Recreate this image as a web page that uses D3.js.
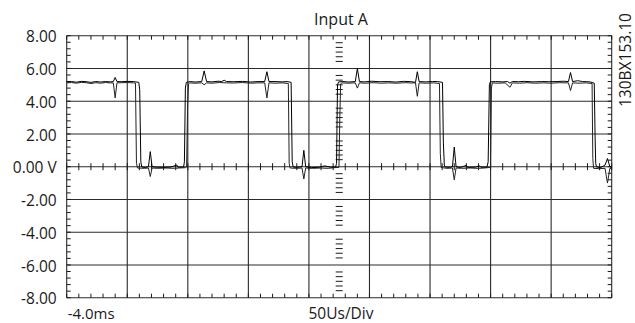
<!DOCTYPE html>
<html>
<head>
<meta charset="utf-8">
<script src="https://cdn.jsdelivr.net/npm/d3@7"></script>
<style>
    html, body { margin: 0; padding: 0; background: #fff; }
    svg { display: block; }
    text { font-family: "Open Sans", "DejaVu Sans", sans-serif; fill: #1a1a1a; }
</style>
</head>
<body>
<svg id="scope"></svg>
<script>
// Scope capture data (time in microseconds, 50 us per division)
const timeDivisions = [0, 50, 100, 150, 200, 250, 300, 350, 400, 450];
const voltTicks = [8, 6, 4, 2, 0, -2, -4, -6, -8];
const voltTickLabels = ['8.00', '6.00', '4.00', '2.00', '0.00 V', '-2.00', '-4.00', '-6.00', '-8.00'];
const chartTitle = 'Input A';
const timeStartLabel = '-4.0ms';
const timebaseLabel = '50Us/Div';
const figureCode = '130BX153.10';

// upper envelope of the trace [time, volts]
const traceUpper = [
    [0, 5.18], [4, 5.2], [8, 5.16], [12, 5.21], [16, 5.19], [20, 5.15], [24, 5.2], [28, 5.17],
    [32, 5.2], [36, 5.18], [38.5, 5.2], [40, 5.45], [41.5, 5.2], [45, 5.19], [50, 5.21], [55, 5.2],
    [59.5, 5.15], [60.3, 4.7], [61.2, 0.3], [62, -0.02],
    [65, -0.05], [67.5, 0.0], [69, 0.92], [70.5, 0.0], [74, -0.03], [80, -0.04], [86, -0.02],
    [91, 0.1], [92, -0.03], [96.5, -0.02], [97.2, 0.3], [98, 4.8], [98.8, 5.15],
    [102, 5.2], [106, 5.17], [111.5, 5.2], [113.5, 5.85], [115.5, 5.2], [120, 5.18], [125, 5.22],
    [128, 5.2], [130, 5.28], [132, 5.2], [138, 5.19], [145, 5.21], [152, 5.17], [158, 5.2],
    [163.5, 5.2], [165.3, 5.8], [167, 5.2], [172, 5.2], [178, 5.18], [182, 5.2], [185.3, 5.15],
    [186.2, 0.3], [187, -0.02],
    [190, -0.04], [194.3, 0], [195.8, 1.0], [197.3, 0.0], [202, -0.05], [208, -0.04], [213, 0.05],
    [218, -0.03], [222, -0.02], [222.8, 0.2], [223.6, 5.0], [224.5, 5.18],
    [228, 5.2], [233, 5.17], [238.3, 5.2], [240, 6.0], [241.7, 5.2], [246, 5.18], [252, 5.22],
    [258, 5.19], [265, 5.2], [272, 5.17], [278, 5.21], [284, 5.2], [288, 5.15], [289.5, 5.8],
    [291, 5.2], [296, 5.18], [302, 5.2], [306, 5.2], [310.3, 5.15], [311, 1.5], [311.8, 0.1], [312.5, -0.02],
    [316, -0.04], [318.5, 0], [320, 1.2], [321.5, 0], [325, -0.05], [330, 0.08], [331, -0.04],
    [337, -0.03], [341, 0.05], [342, -0.03], [347, -0.03], [348, 0.3], [349, 5.0], [349.8, 5.18],
    [354, 5.2], [360, 5.18], [364, 5.2], [366, 5.1], [368, 5.2], [373, 5.19], [378, 5.21], [385, 5.18],
    [392, 5.2], [398, 5.19], [405, 5.2], [410, 5.22], [414.3, 5.2], [416, 5.75], [417.7, 5.2],
    [422, 5.25], [426, 5.2], [432, 5.18], [435.6, 5.1], [436.3, 1.8], [436.8, 0.2], [437.5, -0.02],
    [441, -0.05], [444.5, 0.1], [446.5, 0.5], [448.5, 0.0], [450, -0.05]
];

// lower envelope of the trace [time, volts]
const traceLower = [
    [0, 5.12], [4, 5.14], [8, 5.1], [12, 5.15], [16, 5.13], [20, 5.08], [24, 5.13], [28, 5.1],
    [32, 5.14], [36, 5.12], [38.5, 5.12], [40, 4.2], [41.5, 5.12], [45, 5.13], [50, 5.14], [55, 5.12],
    [56.8, 5.1], [57.6, 0.2], [58.5, -0.08],
    [64, -0.1], [67.5, -0.08], [69, -0.6], [70.5, -0.08], [75, -0.1], [82, -0.08], [88, -0.1],
    [93, -0.08], [98, -0.06], [99, -0.02], [99.8, 3.6], [100.6, 5.05], [101.5, 5.12],
    [106, 5.1], [111.5, 5.12], [113.5, 5.0], [115.5, 5.12], [120, 5.1], [126, 5.14], [132, 5.12],
    [138, 5.11], [145, 5.14], [152, 5.1], [158, 5.12], [163.5, 5.12], [165.3, 4.2], [167, 5.12],
    [172, 5.1], [178, 5.12], [183, 5.08], [183.7, 0.2], [184.5, -0.08],
    [190, -0.1], [194.3, -0.08], [195.8, -0.75], [197.3, -0.08], [203, -0.1], [210, -0.08],
    [216, -0.1], [221, -0.06], [224.8, -0.04], [225.5, 3.0], [226.2, 5.05], [227, 5.12],
    [232, 5.1], [238.3, 5.12], [240, 4.8], [241.7, 5.12], [247, 5.1], [253, 5.13], [260, 5.1],
    [266, 5.12], [272, 5.1], [280, 5.13], [285, 5.11], [288, 5.12], [289.5, 4.3], [291, 5.12],
    [297, 5.1], [303, 5.12], [307.8, 5.08], [308.5, 0.8], [309.2, -0.05],
    [314, -0.1], [318.5, -0.08], [320, -0.8], [321.5, -0.08], [326, -0.1], [333, -0.08],
    [339, -0.1], [345, -0.08], [350, -0.04], [350.7, 4.8], [351.4, 5.12],
    [356, 5.1], [362, 5.12], [366, 4.85], [368, 5.12], [374, 5.1], [380, 5.13], [387, 5.1],
    [394, 5.12], [400, 5.1], [407, 5.13], [414.3, 5.12], [416, 4.65], [417.7, 5.12], [423, 5.1],
    [429, 5.12], [433.8, 5.08], [434.4, 0.5], [435, -0.1],
    [440, -0.12], [444.5, -0.1], [446.5, -1.0], [448.5, -0.1], [450, -0.12]
];

class ScopeChart {
    constructor() {
        this.setupDimensions();
        this.setupScales();
        this.createChart();
        this.drawGrid();
        this.drawTicks();
        this.drawTraces();
        this.drawLabels();
    }

    setupDimensions() {
        this.width = 635;
        this.height = 323;
        this.plot = { left: 66.7, right: 611.7, top: 35.7, bottom: 297.7 };
    }

    setupScales() {
        this.x = d3.scaleLinear()
            .domain([timeDivisions[0], timeDivisions[timeDivisions.length - 1]])
            .range([this.plot.left, this.plot.right]);

        this.y = d3.scaleLinear()
            .domain([-8, 8])
            .range([this.plot.bottom, this.plot.top]);
    }

    createChart() {
        this.svg = d3.select('#scope')
            .attr('width', this.width)
            .attr('height', this.height);
    }

    drawGrid() {
        const g = this.svg.append('g').attr('class', 'grid');

        // vertical division lines (no line at screen centre)
        g.selectAll('.vline')
            .data(timeDivisions)
            .enter()
            .append('line')
            .attr('x1', d => this.x(d))
            .attr('x2', d => this.x(d))
            .attr('y1', this.plot.top)
            .attr('y2', this.plot.bottom)
            .attr('stroke', '#2a2a2a')
            .attr('stroke-width', 1.1);

        g.selectAll('.hline')
            .data(voltTicks)
            .enter()
            .append('line')
            .attr('x1', this.plot.left)
            .attr('x2', this.plot.right)
            .attr('y1', d => this.y(d))
            .attr('y2', d => this.y(d))
            .attr('stroke', '#2a2a2a')
            .attr('stroke-width', 1.1);
    }

    drawTicks() {
        const g = this.svg.append('g').attr('class', 'minor-ticks');
        const t0 = timeDivisions[0];
        const tStep = timeDivisions[1] - timeDivisions[0];
        const tMinor = d3.range(t0, timeDivisions[timeDivisions.length - 1] + 0.01, tStep / 5);
        const vMinor = d3.range(-8, 8.01, 2 / 5);
        const tick = 4;

        const addLine = (x1, y1, x2, y2) => g.append('line')
            .attr('x1', x1).attr('y1', y1).attr('x2', x2).attr('y2', y2)
            .attr('stroke', '#1a1a1a').attr('stroke-width', 1);

        // top / bottom border and zero line ticks
        tMinor.forEach(t => {
            const px = this.x(t);
            addLine(px, this.plot.top, px, this.plot.top + tick);
            addLine(px, this.plot.bottom, px, this.plot.bottom - tick);
            addLine(px, this.y(0) - 3.5, px, this.y(0) + 3.5);
        });

        // left / right border ticks
        vMinor.forEach(v => {
            const py = this.y(v);
            addLine(this.plot.left, py, this.plot.left + tick, py);
            addLine(this.plot.right, py, this.plot.right - tick, py);
        });

        // centre graticule: groups of small dashes inside each voltage division
        const cx = this.x((t0 + timeDivisions[timeDivisions.length - 1]) / 2);
        const divPx = this.y(0) - this.y(2);
        voltTicks.slice(0, -1).forEach(v => {
            const mid = this.y(v - 1);
            d3.range(-2, 3).forEach(k => {
                const py = mid + k * divPx / 7;
                addLine(cx - 3.5, py, cx + 3.5, py);
            });
        });
    }

    drawTraces() {
        const line = d3.line()
            .x(d => this.x(d[0]))
            .y(d => this.y(d[1]));

        this.svg.append('path')
            .datum(traceLower)
            .attr('fill', 'none')
            .attr('stroke', '#222')
            .attr('stroke-width', 1)
            .attr('d', line);

        this.svg.append('path')
            .datum(traceUpper)
            .attr('fill', 'none')
            .attr('stroke', '#000')
            .attr('stroke-width', 1)
            .attr('d', line);
    }

    drawLabels() {
        // voltage labels via the axis generator
        const yAxis = d3.axisLeft(this.y)
            .tickValues(voltTicks)
            .tickSize(0)
            .tickPadding(10)
            .tickFormat((d, i) => voltTickLabels[i]);

        const axisG = this.svg.append('g')
            .attr('transform', `translate(${this.plot.left}, 0)`)
            .call(yAxis);
        axisG.select('.domain').remove();
        axisG.selectAll('text')
            .attr('dy', '0.4em')
            .style('font-size', '15.5px')
            .style('font-family', '"Open Sans", sans-serif')
            .attr('fill', '#1a1a1a');

        this.svg.append('text')
            .attr('x', 341)
            .attr('y', 25)
            .attr('text-anchor', 'middle')
            .style('font-size', '16px')
            .text(chartTitle);

        this.svg.append('text')
            .attr('x', this.plot.left + 1)
            .attr('y', 318.5)
            .style('font-size', '15px')
            .text(timeStartLabel);

        this.svg.append('text')
            .attr('x', 341)
            .attr('y', 318.5)
            .attr('text-anchor', 'middle')
            .style('font-size', '15.5px')
            .text(timebaseLabel);

        this.svg.append('text')
            .attr('transform', 'translate(631, 107) rotate(-90)')
            .style('font-size', '15.5px')
            .text(figureCode);
    }
}

document.addEventListener('DOMContentLoaded', function() {
    new ScopeChart();
});
</script>
</body>
</html>
